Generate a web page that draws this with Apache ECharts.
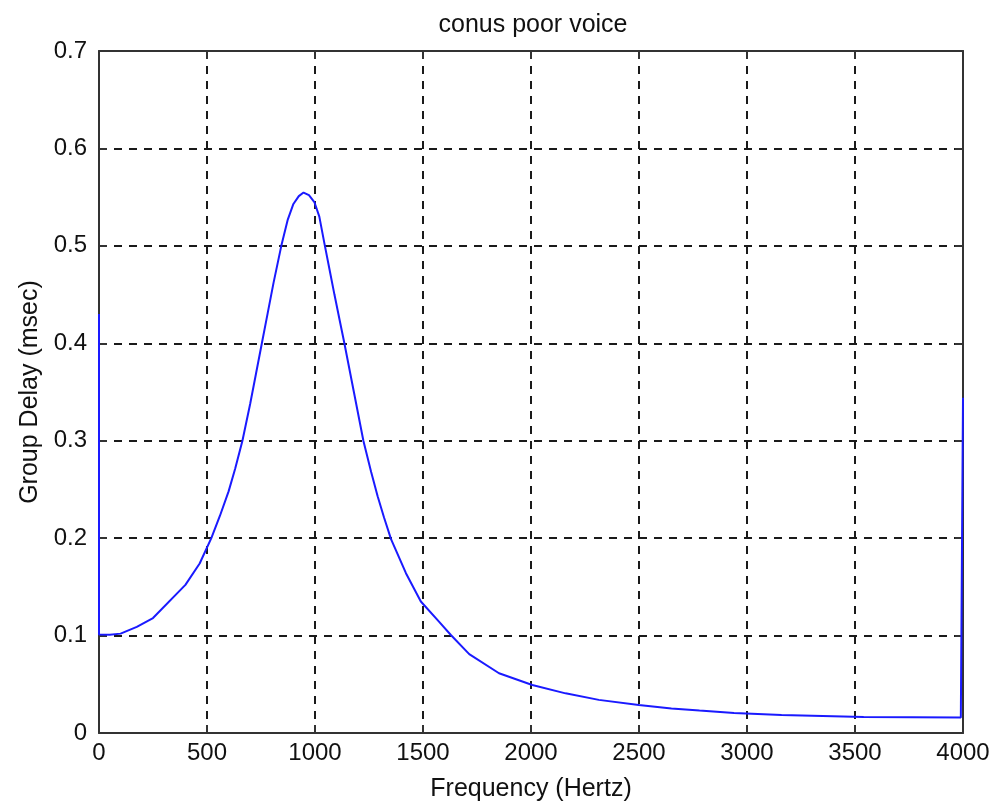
<!DOCTYPE html>
<html>
<head>
<meta charset="utf-8">
<script src="https://cdn.jsdelivr.net/npm/echarts@6/dist/echarts.min.js"></script>
<style>
html,body{margin:0;padding:0;background:#fff;}
#chart{width:1000px;height:809px;}
</style>
</head>
<body>
<div id="chart"></div>
<script>
// Data
var frequencyHz = [0, 0, 50, 100, 175, 250, 400, 466, 520, 560, 600, 630, 664, 700, 727, 754, 781, 808, 844, 874, 900, 925, 947, 972, 997, 1020, 1044, 1067, 1090, 1113, 1136, 1180, 1224, 1260, 1290, 1320, 1352, 1421, 1490, 1575, 1629, 1714, 1852, 2006, 2160, 2314, 2499, 2650, 2780, 2940, 3160, 3540, 3990, 4000];
var groupDelayMs = [0.43, 0.101, 0.1008, 0.102, 0.109, 0.118, 0.152, 0.174, 0.200, 0.223, 0.248, 0.271, 0.300, 0.338, 0.369, 0.400, 0.431, 0.462, 0.500, 0.527, 0.543, 0.551, 0.5547, 0.552, 0.545, 0.530, 0.502, 0.476, 0.450, 0.425, 0.400, 0.350, 0.300, 0.268, 0.243, 0.221, 0.199, 0.164, 0.135, 0.114, 0.1006, 0.081, 0.0613, 0.0493, 0.0407, 0.034, 0.0287, 0.0252, 0.023, 0.0205, 0.0185, 0.0165, 0.016, 0.344];
var xTickLabels = ['0', '500', '1000', '1500', '2000', '2500', '3000', '3500', '4000'];
var yTickLabels = ['0', '0.1', '0.2', '0.3', '0.4', '0.5', '0.6', '0.7'];
var titleText = 'conus poor voice';
var xName = 'Frequency (Hertz)';
var yName = 'Group Delay (msec)';

var points = frequencyHz.map(function (f, i) { return [f, groupDelayMs[i]]; });

var FONT = '"Liberation Sans", Arial, sans-serif';
var axisColor = '#333';
var gridLine = { show: true, lineStyle: { color: '#1a1a1a', width: 2, type: [8, 7] } };

function xLabel(v) { var i = Math.round(v / 500); return xTickLabels[i] !== undefined ? xTickLabels[i] : ''; }
function yLabel(v) { var i = Math.round(v / 0.1); return yTickLabels[i] !== undefined ? yTickLabels[i] : ''; }

var chart = echarts.init(document.getElementById('chart'), null, { renderer: 'canvas' });
chart.setOption({
  backgroundColor: '#ffffff',
  animation: false,
  title: {
    text: titleText,
    left: 528,
    textAlign: 'center',
    top: 8,
    textStyle: { fontFamily: FONT, fontSize: 25, fontWeight: 'normal', color: '#111' }
  },
  grid: { left: 99, right: 37, top: 51, bottom: 76, containLabel: false },
  xAxis: [{
    type: 'value', position: 'bottom', min: 0, max: 4000, interval: 500,
    name: xName, nameLocation: 'middle', nameGap: 44,
    nameTextStyle: { fontFamily: FONT, fontSize: 25, color: '#111' },
    axisLine: { show: true, onZero: false, lineStyle: { color: axisColor, width: 2 } },
    axisTick: { show: true, inside: true, length: 8, lineStyle: { color: axisColor, width: 2 } },
    axisLabel: { fontFamily: FONT, fontSize: 24, color: '#111', margin: 8, formatter: xLabel },
    splitLine: gridLine
  }, {
    type: 'value', position: 'top', min: 0, max: 4000, interval: 500,
    axisLine: { show: true, onZero: false, lineStyle: { color: axisColor, width: 2 } },
    axisTick: { show: true, inside: true, length: 8, lineStyle: { color: axisColor, width: 2 } },
    axisLabel: { show: false },
    splitLine: { show: false }
  }],
  yAxis: [{
    type: 'value', position: 'left', min: 0, max: 0.7, interval: 0.1,
    name: yName, nameLocation: 'middle', nameGap: 54, nameRotate: 90,
    nameTextStyle: { fontFamily: FONT, fontSize: 25, color: '#111' },
    axisLine: { show: true, onZero: false, lineStyle: { color: axisColor, width: 2 } },
    axisTick: { show: true, inside: true, length: 8, lineStyle: { color: axisColor, width: 2 } },
    axisLabel: { fontFamily: FONT, fontSize: 24, color: '#111', margin: 12, formatter: yLabel },
    splitLine: gridLine
  }, {
    type: 'value', position: 'right', min: 0, max: 0.7, interval: 0.1,
    axisLine: { show: true, onZero: false, lineStyle: { color: axisColor, width: 2 } },
    axisTick: { show: true, inside: true, length: 8, lineStyle: { color: axisColor, width: 2 } },
    axisLabel: { show: false },
    splitLine: { show: false }
  }],
  series: [{
    type: 'line',
    xAxisIndex: 0, yAxisIndex: 0,
    data: points,
    showSymbol: false,
    symbol: 'none',
    smooth: false,
    clip: false,
    lineStyle: { color: '#1a1aff', width: 2 },
    z: 5
  }]
});
</script>
</body>
</html>
